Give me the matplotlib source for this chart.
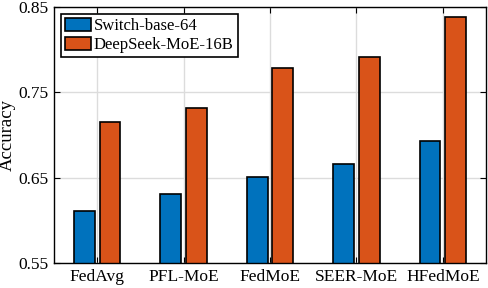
import numpy as np
import matplotlib.pyplot as plt

plt.rcParams['font.family'] = ['Liberation Serif', 'DejaVu Serif']
plt.rcParams['mathtext.fontset'] = 'stix'

methods = ['FedAvg', 'PFL-MoE', 'FedMoE', 'SEER-MoE', 'HFedMoE']
switch_acc = [0.611, 0.631, 0.651, 0.666, 0.693]
deepseek_acc = [0.715, 0.732, 0.779, 0.791, 0.838]
yticks = [0.55, 0.65, 0.75, 0.85]

blue = '#0072BD'
orange = '#D95319'

fig = plt.figure(figsize=(4.88, 2.88), dpi=100)
ax = fig.add_axes([54 / 488, 25 / 288, 432 / 488, 256 / 288])

x = np.arange(1, len(methods) + 1)
w = 0.24
off = 0.148
ax.bar(x - off, switch_acc, w, color=blue, edgecolor='black', linewidth=1.2,
       label='Switch-base-64', zorder=3)
ax.bar(x + off, deepseek_acc, w, color=orange, edgecolor='black', linewidth=1.2,
       label='DeepSeek-MoE-16B', zorder=3)

ax.set_xlim(0.5, 5.5)
ax.set_ylim(0.55, 0.85)
ax.set_xticks(x)
ax.set_xticklabels(methods)
ax.set_yticks(yticks)
ax.set_yticklabels([f'{v:.2f}' for v in yticks])
ax.set_ylabel('Accuracy', fontsize=13.5, labelpad=2)

ax.grid(True, color='#dcdcdc', linewidth=1.0, zorder=0)
ax.tick_params(direction='in', length=4, width=0.8, labelsize=12.5,
               top=True, right=True, pad=4)
for s in ax.spines.values():
    s.set_linewidth(1.0)
    s.set_zorder(4)

leg = ax.legend(loc='upper left', fontsize=12, frameon=True, fancybox=False,
                edgecolor='black', framealpha=1, borderpad=0.25,
                handlelength=1.55, handleheight=0.85, handletextpad=0.2,
                labelspacing=0.15, borderaxespad=0.4)
leg.get_frame().set_linewidth(1.2)

fig.savefig('out.png', dpi=100)
